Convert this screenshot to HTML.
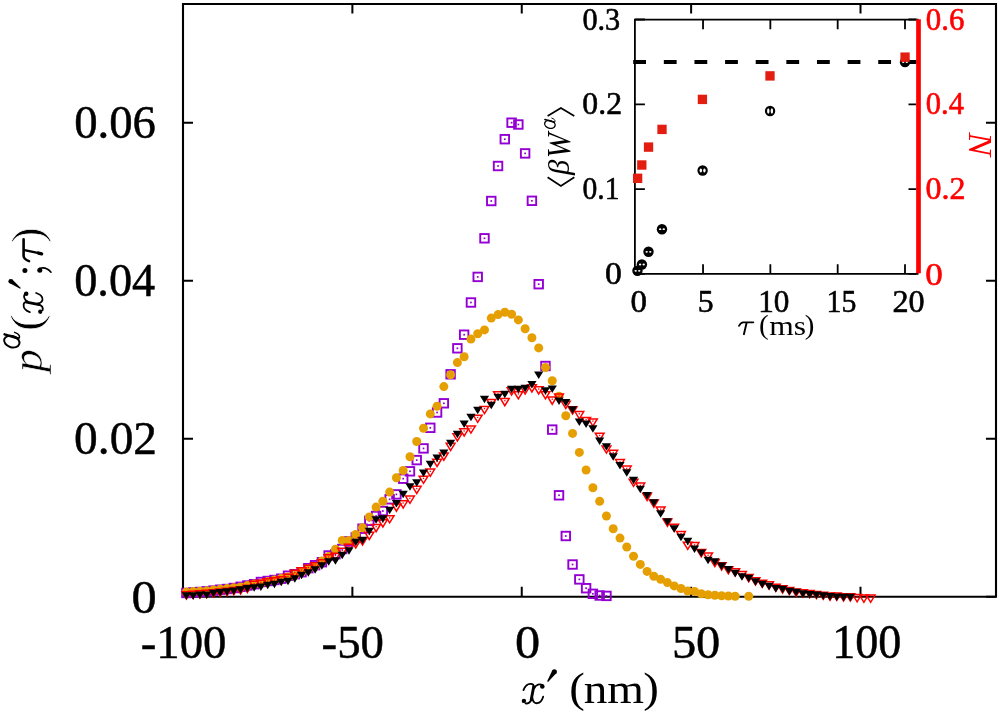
<!DOCTYPE html><html><head><meta charset="utf-8"><style>html,body{margin:0;padding:0;background:#fff;overflow:hidden}svg{display:block;font-family:"Liberation Serif",serif}</style></head><body>
<svg width="1000" height="715" viewBox="0 0 1000 715" font-family="Liberation Serif" style="will-change:transform">
<rect width="1000" height="715" fill="#fff"/>
<path d="M183.0 4.0H996.0V596.8H183.0Z" fill="none" stroke="#000" stroke-width="2.1"/>
<path d="M183.00 596.8v-10M183.00 4.0v9.5M352.38 596.8v-10M352.38 4.0v9.5M521.75 596.8v-10M521.75 4.0v9.5M691.12 596.8v-10M691.12 4.0v9.5M860.50 596.8v-10M860.50 4.0v9.5M183.0 596.80h10M996.0 596.80h-10M183.0 438.80h10M996.0 438.80h-10M183.0 280.80h10M996.0 280.80h-10M183.0 122.80h10M996.0 122.80h-10" stroke="#000" stroke-width="2" fill="none"/>
<g>
<rect x="182.14" y="588.75" width="8.5" height="8.5" fill="none" stroke="#9400d3" stroke-width="1.9"/><rect x="185.54" y="592.15" width="1.7" height="1.7" fill="#9400d3"/><rect x="188.91" y="588.25" width="8.5" height="8.5" fill="none" stroke="#9400d3" stroke-width="1.9"/><rect x="192.31" y="591.65" width="1.7" height="1.7" fill="#9400d3"/><rect x="195.69" y="587.75" width="8.5" height="8.5" fill="none" stroke="#9400d3" stroke-width="1.9"/><rect x="199.09" y="591.15" width="1.7" height="1.7" fill="#9400d3"/><rect x="202.46" y="587.05" width="8.5" height="8.5" fill="none" stroke="#9400d3" stroke-width="1.9"/><rect x="205.86" y="590.45" width="1.7" height="1.7" fill="#9400d3"/><rect x="209.24" y="586.35" width="8.5" height="8.5" fill="none" stroke="#9400d3" stroke-width="1.9"/><rect x="212.64" y="589.75" width="1.7" height="1.7" fill="#9400d3"/><rect x="216.01" y="585.45" width="8.5" height="8.5" fill="none" stroke="#9400d3" stroke-width="1.9"/><rect x="219.41" y="588.85" width="1.7" height="1.7" fill="#9400d3"/><rect x="222.79" y="584.75" width="8.5" height="8.5" fill="none" stroke="#9400d3" stroke-width="1.9"/><rect x="226.19" y="588.15" width="1.7" height="1.7" fill="#9400d3"/><rect x="229.56" y="583.75" width="8.5" height="8.5" fill="none" stroke="#9400d3" stroke-width="1.9"/><rect x="232.96" y="587.15" width="1.7" height="1.7" fill="#9400d3"/><rect x="236.34" y="582.55" width="8.5" height="8.5" fill="none" stroke="#9400d3" stroke-width="1.9"/><rect x="239.74" y="585.95" width="1.7" height="1.7" fill="#9400d3"/><rect x="243.11" y="581.25" width="8.5" height="8.5" fill="none" stroke="#9400d3" stroke-width="1.9"/><rect x="246.51" y="584.65" width="1.7" height="1.7" fill="#9400d3"/><rect x="249.89" y="579.95" width="8.5" height="8.5" fill="none" stroke="#9400d3" stroke-width="1.9"/><rect x="253.29" y="583.35" width="1.7" height="1.7" fill="#9400d3"/><rect x="256.66" y="577.75" width="8.5" height="8.5" fill="none" stroke="#9400d3" stroke-width="1.9"/><rect x="260.06" y="581.15" width="1.7" height="1.7" fill="#9400d3"/><rect x="263.44" y="576.75" width="8.5" height="8.5" fill="none" stroke="#9400d3" stroke-width="1.9"/><rect x="266.84" y="580.15" width="1.7" height="1.7" fill="#9400d3"/><rect x="270.21" y="575.75" width="8.5" height="8.5" fill="none" stroke="#9400d3" stroke-width="1.9"/><rect x="273.61" y="579.15" width="1.7" height="1.7" fill="#9400d3"/><rect x="276.99" y="574.45" width="8.5" height="8.5" fill="none" stroke="#9400d3" stroke-width="1.9"/><rect x="280.39" y="577.85" width="1.7" height="1.7" fill="#9400d3"/><rect x="283.76" y="571.45" width="8.5" height="8.5" fill="none" stroke="#9400d3" stroke-width="1.9"/><rect x="287.16" y="574.85" width="1.7" height="1.7" fill="#9400d3"/><rect x="290.54" y="569.95" width="8.5" height="8.5" fill="none" stroke="#9400d3" stroke-width="1.9"/><rect x="293.94" y="573.35" width="1.7" height="1.7" fill="#9400d3"/><rect x="297.31" y="567.95" width="8.5" height="8.5" fill="none" stroke="#9400d3" stroke-width="1.9"/><rect x="300.71" y="571.35" width="1.7" height="1.7" fill="#9400d3"/><rect x="304.09" y="563.95" width="8.5" height="8.5" fill="none" stroke="#9400d3" stroke-width="1.9"/><rect x="307.49" y="567.35" width="1.7" height="1.7" fill="#9400d3"/><rect x="310.86" y="560.95" width="8.5" height="8.5" fill="none" stroke="#9400d3" stroke-width="1.9"/><rect x="314.26" y="564.35" width="1.7" height="1.7" fill="#9400d3"/><rect x="317.64" y="557.95" width="8.5" height="8.5" fill="none" stroke="#9400d3" stroke-width="1.9"/><rect x="321.04" y="561.35" width="1.7" height="1.7" fill="#9400d3"/><rect x="324.41" y="551.25" width="8.5" height="8.5" fill="none" stroke="#9400d3" stroke-width="1.9"/><rect x="327.81" y="554.65" width="1.7" height="1.7" fill="#9400d3"/><rect x="331.19" y="549.95" width="8.5" height="8.5" fill="none" stroke="#9400d3" stroke-width="1.9"/><rect x="334.59" y="553.35" width="1.7" height="1.7" fill="#9400d3"/><rect x="337.96" y="544.75" width="8.5" height="8.5" fill="none" stroke="#9400d3" stroke-width="1.9"/><rect x="341.36" y="548.15" width="1.7" height="1.7" fill="#9400d3"/><rect x="344.74" y="537.15" width="8.5" height="8.5" fill="none" stroke="#9400d3" stroke-width="1.9"/><rect x="348.14" y="540.55" width="1.7" height="1.7" fill="#9400d3"/><rect x="351.51" y="533.25" width="8.5" height="8.5" fill="none" stroke="#9400d3" stroke-width="1.9"/><rect x="354.91" y="536.65" width="1.7" height="1.7" fill="#9400d3"/><rect x="358.29" y="524.45" width="8.5" height="8.5" fill="none" stroke="#9400d3" stroke-width="1.9"/><rect x="361.69" y="527.85" width="1.7" height="1.7" fill="#9400d3"/><rect x="365.06" y="516.55" width="8.5" height="8.5" fill="none" stroke="#9400d3" stroke-width="1.9"/><rect x="368.46" y="519.95" width="1.7" height="1.7" fill="#9400d3"/><rect x="371.84" y="511.75" width="8.5" height="8.5" fill="none" stroke="#9400d3" stroke-width="1.9"/><rect x="375.24" y="515.15" width="1.7" height="1.7" fill="#9400d3"/><rect x="378.61" y="506.75" width="8.5" height="8.5" fill="none" stroke="#9400d3" stroke-width="1.9"/><rect x="382.01" y="510.15" width="1.7" height="1.7" fill="#9400d3"/><rect x="385.39" y="495.05" width="8.5" height="8.5" fill="none" stroke="#9400d3" stroke-width="1.9"/><rect x="388.79" y="498.45" width="1.7" height="1.7" fill="#9400d3"/><rect x="392.16" y="490.15" width="8.5" height="8.5" fill="none" stroke="#9400d3" stroke-width="1.9"/><rect x="395.56" y="493.55" width="1.7" height="1.7" fill="#9400d3"/><rect x="398.94" y="474.45" width="8.5" height="8.5" fill="none" stroke="#9400d3" stroke-width="1.9"/><rect x="402.34" y="477.85" width="1.7" height="1.7" fill="#9400d3"/><rect x="405.71" y="467.05" width="8.5" height="8.5" fill="none" stroke="#9400d3" stroke-width="1.9"/><rect x="409.11" y="470.45" width="1.7" height="1.7" fill="#9400d3"/><rect x="412.49" y="455.85" width="8.5" height="8.5" fill="none" stroke="#9400d3" stroke-width="1.9"/><rect x="415.89" y="459.25" width="1.7" height="1.7" fill="#9400d3"/><rect x="419.26" y="444.15" width="8.5" height="8.5" fill="none" stroke="#9400d3" stroke-width="1.9"/><rect x="422.66" y="447.55" width="1.7" height="1.7" fill="#9400d3"/><rect x="426.04" y="423.55" width="8.5" height="8.5" fill="none" stroke="#9400d3" stroke-width="1.9"/><rect x="429.44" y="426.95" width="1.7" height="1.7" fill="#9400d3"/><rect x="432.81" y="408.25" width="8.5" height="8.5" fill="none" stroke="#9400d3" stroke-width="1.9"/><rect x="436.21" y="411.65" width="1.7" height="1.7" fill="#9400d3"/><rect x="439.59" y="399.05" width="8.5" height="8.5" fill="none" stroke="#9400d3" stroke-width="1.9"/><rect x="442.99" y="402.45" width="1.7" height="1.7" fill="#9400d3"/><rect x="446.36" y="370.05" width="8.5" height="8.5" fill="none" stroke="#9400d3" stroke-width="1.9"/><rect x="449.76" y="373.45" width="1.7" height="1.7" fill="#9400d3"/><rect x="453.14" y="344.05" width="8.5" height="8.5" fill="none" stroke="#9400d3" stroke-width="1.9"/><rect x="456.54" y="347.45" width="1.7" height="1.7" fill="#9400d3"/><rect x="459.91" y="330.45" width="8.5" height="8.5" fill="none" stroke="#9400d3" stroke-width="1.9"/><rect x="463.31" y="333.85" width="1.7" height="1.7" fill="#9400d3"/><rect x="466.69" y="298.25" width="8.5" height="8.5" fill="none" stroke="#9400d3" stroke-width="1.9"/><rect x="470.09" y="301.65" width="1.7" height="1.7" fill="#9400d3"/><rect x="473.46" y="272.65" width="8.5" height="8.5" fill="none" stroke="#9400d3" stroke-width="1.9"/><rect x="476.86" y="276.05" width="1.7" height="1.7" fill="#9400d3"/><rect x="480.24" y="234.05" width="8.5" height="8.5" fill="none" stroke="#9400d3" stroke-width="1.9"/><rect x="483.64" y="237.45" width="1.7" height="1.7" fill="#9400d3"/><rect x="487.01" y="196.75" width="8.5" height="8.5" fill="none" stroke="#9400d3" stroke-width="1.9"/><rect x="490.41" y="200.15" width="1.7" height="1.7" fill="#9400d3"/><rect x="493.79" y="161.75" width="8.5" height="8.5" fill="none" stroke="#9400d3" stroke-width="1.9"/><rect x="497.19" y="165.15" width="1.7" height="1.7" fill="#9400d3"/><rect x="500.56" y="134.95" width="8.5" height="8.5" fill="none" stroke="#9400d3" stroke-width="1.9"/><rect x="503.96" y="138.35" width="1.7" height="1.7" fill="#9400d3"/><rect x="507.34" y="118.45" width="8.5" height="8.5" fill="none" stroke="#9400d3" stroke-width="1.9"/><rect x="510.74" y="121.85" width="1.7" height="1.7" fill="#9400d3"/><rect x="514.11" y="120.25" width="8.5" height="8.5" fill="none" stroke="#9400d3" stroke-width="1.9"/><rect x="517.51" y="123.65" width="1.7" height="1.7" fill="#9400d3"/><rect x="520.89" y="149.15" width="8.5" height="8.5" fill="none" stroke="#9400d3" stroke-width="1.9"/><rect x="524.29" y="152.55" width="1.7" height="1.7" fill="#9400d3"/><rect x="527.66" y="196.55" width="8.5" height="8.5" fill="none" stroke="#9400d3" stroke-width="1.9"/><rect x="531.06" y="199.95" width="1.7" height="1.7" fill="#9400d3"/><rect x="534.44" y="279.95" width="8.5" height="8.5" fill="none" stroke="#9400d3" stroke-width="1.9"/><rect x="537.84" y="283.35" width="1.7" height="1.7" fill="#9400d3"/><rect x="541.21" y="361.75" width="8.5" height="8.5" fill="none" stroke="#9400d3" stroke-width="1.9"/><rect x="544.61" y="365.15" width="1.7" height="1.7" fill="#9400d3"/><rect x="547.99" y="425.35" width="8.5" height="8.5" fill="none" stroke="#9400d3" stroke-width="1.9"/><rect x="551.39" y="428.75" width="1.7" height="1.7" fill="#9400d3"/><rect x="554.76" y="491.05" width="8.5" height="8.5" fill="none" stroke="#9400d3" stroke-width="1.9"/><rect x="558.16" y="494.45" width="1.7" height="1.7" fill="#9400d3"/><rect x="561.54" y="531.75" width="8.5" height="8.5" fill="none" stroke="#9400d3" stroke-width="1.9"/><rect x="564.94" y="535.15" width="1.7" height="1.7" fill="#9400d3"/><rect x="568.31" y="560.25" width="8.5" height="8.5" fill="none" stroke="#9400d3" stroke-width="1.9"/><rect x="571.71" y="563.65" width="1.7" height="1.7" fill="#9400d3"/><rect x="575.09" y="575.15" width="8.5" height="8.5" fill="none" stroke="#9400d3" stroke-width="1.9"/><rect x="578.49" y="578.55" width="1.7" height="1.7" fill="#9400d3"/><rect x="581.86" y="583.95" width="8.5" height="8.5" fill="none" stroke="#9400d3" stroke-width="1.9"/><rect x="585.26" y="587.35" width="1.7" height="1.7" fill="#9400d3"/><rect x="588.64" y="589.55" width="8.5" height="8.5" fill="none" stroke="#9400d3" stroke-width="1.9"/><rect x="592.04" y="592.95" width="1.7" height="1.7" fill="#9400d3"/><rect x="595.41" y="591.25" width="8.5" height="8.5" fill="none" stroke="#9400d3" stroke-width="1.9"/><rect x="598.81" y="594.65" width="1.7" height="1.7" fill="#9400d3"/><rect x="602.19" y="591.65" width="8.5" height="8.5" fill="none" stroke="#9400d3" stroke-width="1.9"/><rect x="605.59" y="595.05" width="1.7" height="1.7" fill="#9400d3"/>
<circle cx="186.39" cy="592.00" r="4.5" fill="#e69f00"/><circle cx="193.16" cy="591.60" r="4.5" fill="#e69f00"/><circle cx="199.94" cy="591.20" r="4.5" fill="#e69f00"/><circle cx="206.71" cy="590.70" r="4.5" fill="#e69f00"/><circle cx="213.49" cy="590.00" r="4.5" fill="#e69f00"/><circle cx="220.26" cy="589.30" r="4.5" fill="#e69f00"/><circle cx="227.04" cy="588.60" r="4.5" fill="#e69f00"/><circle cx="233.81" cy="587.80" r="4.5" fill="#e69f00"/><circle cx="240.59" cy="587.00" r="4.5" fill="#e69f00"/><circle cx="247.36" cy="585.60" r="4.5" fill="#e69f00"/><circle cx="254.14" cy="584.00" r="4.5" fill="#e69f00"/><circle cx="260.91" cy="583.50" r="4.5" fill="#e69f00"/><circle cx="267.69" cy="581.50" r="4.5" fill="#e69f00"/><circle cx="274.46" cy="580.00" r="4.5" fill="#e69f00"/><circle cx="281.24" cy="578.50" r="4.5" fill="#e69f00"/><circle cx="288.01" cy="577.00" r="4.5" fill="#e69f00"/><circle cx="294.79" cy="575.50" r="4.5" fill="#e69f00"/><circle cx="301.56" cy="572.00" r="4.5" fill="#e69f00"/><circle cx="308.34" cy="569.00" r="4.5" fill="#e69f00"/><circle cx="315.11" cy="566.50" r="4.5" fill="#e69f00"/><circle cx="321.89" cy="561.00" r="4.5" fill="#e69f00"/><circle cx="328.66" cy="556.50" r="4.5" fill="#e69f00"/><circle cx="335.44" cy="549.20" r="4.5" fill="#e69f00"/><circle cx="342.21" cy="540.40" r="4.5" fill="#e69f00"/><circle cx="348.99" cy="540.40" r="4.5" fill="#e69f00"/><circle cx="355.76" cy="534.50" r="4.5" fill="#e69f00"/><circle cx="362.54" cy="527.70" r="4.5" fill="#e69f00"/><circle cx="369.31" cy="516.90" r="4.5" fill="#e69f00"/><circle cx="376.09" cy="507.10" r="4.5" fill="#e69f00"/><circle cx="382.86" cy="501.30" r="4.5" fill="#e69f00"/><circle cx="389.64" cy="492.10" r="4.5" fill="#e69f00"/><circle cx="396.41" cy="477.80" r="4.5" fill="#e69f00"/><circle cx="403.19" cy="470.50" r="4.5" fill="#e69f00"/><circle cx="409.96" cy="456.80" r="4.5" fill="#e69f00"/><circle cx="416.74" cy="441.50" r="4.5" fill="#e69f00"/><circle cx="423.51" cy="428.20" r="4.5" fill="#e69f00"/><circle cx="430.29" cy="413.90" r="4.5" fill="#e69f00"/><circle cx="437.06" cy="406.20" r="4.5" fill="#e69f00"/><circle cx="443.84" cy="386.60" r="4.5" fill="#e69f00"/><circle cx="450.61" cy="374.70" r="4.5" fill="#e69f00"/><circle cx="457.39" cy="362.60" r="4.5" fill="#e69f00"/><circle cx="464.16" cy="356.70" r="4.5" fill="#e69f00"/><circle cx="470.94" cy="339.10" r="4.5" fill="#e69f00"/><circle cx="477.71" cy="333.80" r="4.5" fill="#e69f00"/><circle cx="484.49" cy="329.90" r="4.5" fill="#e69f00"/><circle cx="491.26" cy="318.10" r="4.5" fill="#e69f00"/><circle cx="498.04" cy="314.60" r="4.5" fill="#e69f00"/><circle cx="504.81" cy="312.20" r="4.5" fill="#e69f00"/><circle cx="511.59" cy="314.20" r="4.5" fill="#e69f00"/><circle cx="518.36" cy="319.90" r="4.5" fill="#e69f00"/><circle cx="525.14" cy="328.70" r="4.5" fill="#e69f00"/><circle cx="531.91" cy="337.70" r="4.5" fill="#e69f00"/><circle cx="538.69" cy="347.90" r="4.5" fill="#e69f00"/><circle cx="545.46" cy="367.50" r="4.5" fill="#e69f00"/><circle cx="552.24" cy="380.80" r="4.5" fill="#e69f00"/><circle cx="559.01" cy="396.20" r="4.5" fill="#e69f00"/><circle cx="565.79" cy="415.80" r="4.5" fill="#e69f00"/><circle cx="572.56" cy="433.40" r="4.5" fill="#e69f00"/><circle cx="579.34" cy="452.40" r="4.5" fill="#e69f00"/><circle cx="586.11" cy="470.00" r="4.5" fill="#e69f00"/><circle cx="592.89" cy="487.70" r="4.5" fill="#e69f00"/><circle cx="599.66" cy="501.30" r="4.5" fill="#e69f00"/><circle cx="606.44" cy="516.00" r="4.5" fill="#e69f00"/><circle cx="613.21" cy="528.70" r="4.5" fill="#e69f00"/><circle cx="619.99" cy="538.10" r="4.5" fill="#e69f00"/><circle cx="626.76" cy="547.00" r="4.5" fill="#e69f00"/><circle cx="633.54" cy="556.20" r="4.5" fill="#e69f00"/><circle cx="640.31" cy="564.40" r="4.5" fill="#e69f00"/><circle cx="647.09" cy="571.40" r="4.5" fill="#e69f00"/><circle cx="653.86" cy="576.30" r="4.5" fill="#e69f00"/><circle cx="660.64" cy="579.30" r="4.5" fill="#e69f00"/><circle cx="667.41" cy="582.60" r="4.5" fill="#e69f00"/><circle cx="674.19" cy="585.90" r="4.5" fill="#e69f00"/><circle cx="680.96" cy="588.50" r="4.5" fill="#e69f00"/><circle cx="687.74" cy="591.00" r="4.5" fill="#e69f00"/><circle cx="694.51" cy="591.40" r="4.5" fill="#e69f00"/><circle cx="701.29" cy="593.80" r="4.5" fill="#e69f00"/><circle cx="708.06" cy="594.70" r="4.5" fill="#e69f00"/><circle cx="714.84" cy="595.30" r="4.5" fill="#e69f00"/><circle cx="721.61" cy="595.70" r="4.5" fill="#e69f00"/><circle cx="728.39" cy="596.00" r="4.5" fill="#e69f00"/><circle cx="735.16" cy="596.30" r="4.5" fill="#e69f00"/><circle cx="748.71" cy="596.30" r="4.5" fill="#e69f00"/>
<path d="M181.99 591.80H190.79L186.39 599.00Z" fill="none" stroke="#ff0000" stroke-width="1.5" stroke-linejoin="miter"/><rect x="185.74" y="593.35" width="1.3" height="1.3" fill="#ff0000"/><path d="M188.76 591.30H197.56L193.16 598.50Z" fill="none" stroke="#ff0000" stroke-width="1.5" stroke-linejoin="miter"/><rect x="192.51" y="592.85" width="1.3" height="1.3" fill="#ff0000"/><path d="M195.54 590.80H204.34L199.94 598.00Z" fill="none" stroke="#ff0000" stroke-width="1.5" stroke-linejoin="miter"/><rect x="199.29" y="592.35" width="1.3" height="1.3" fill="#ff0000"/><path d="M202.31 590.30H211.11L206.71 597.50Z" fill="none" stroke="#ff0000" stroke-width="1.5" stroke-linejoin="miter"/><rect x="206.06" y="591.85" width="1.3" height="1.3" fill="#ff0000"/><path d="M209.09 589.80H217.89L213.49 597.00Z" fill="none" stroke="#ff0000" stroke-width="1.5" stroke-linejoin="miter"/><rect x="212.84" y="591.35" width="1.3" height="1.3" fill="#ff0000"/><path d="M215.86 589.10H224.66L220.26 596.30Z" fill="none" stroke="#ff0000" stroke-width="1.5" stroke-linejoin="miter"/><rect x="219.61" y="590.65" width="1.3" height="1.3" fill="#ff0000"/><path d="M222.64 588.30H231.44L227.04 595.50Z" fill="none" stroke="#ff0000" stroke-width="1.5" stroke-linejoin="miter"/><rect x="226.39" y="589.85" width="1.3" height="1.3" fill="#ff0000"/><path d="M229.41 587.60H238.21L233.81 594.80Z" fill="none" stroke="#ff0000" stroke-width="1.5" stroke-linejoin="miter"/><rect x="233.16" y="589.15" width="1.3" height="1.3" fill="#ff0000"/><path d="M236.19 586.80H244.99L240.59 594.00Z" fill="none" stroke="#ff0000" stroke-width="1.5" stroke-linejoin="miter"/><rect x="239.94" y="588.35" width="1.3" height="1.3" fill="#ff0000"/><path d="M242.96 585.30H251.76L247.36 592.50Z" fill="none" stroke="#ff0000" stroke-width="1.5" stroke-linejoin="miter"/><rect x="246.71" y="586.85" width="1.3" height="1.3" fill="#ff0000"/><path d="M249.74 581.30H258.54L254.14 588.50Z" fill="none" stroke="#ff0000" stroke-width="1.5" stroke-linejoin="miter"/><rect x="253.49" y="582.85" width="1.3" height="1.3" fill="#ff0000"/><path d="M256.51 580.30H265.31L260.91 587.50Z" fill="none" stroke="#ff0000" stroke-width="1.5" stroke-linejoin="miter"/><rect x="260.26" y="581.85" width="1.3" height="1.3" fill="#ff0000"/><path d="M263.29 578.80H272.09L267.69 586.00Z" fill="none" stroke="#ff0000" stroke-width="1.5" stroke-linejoin="miter"/><rect x="267.04" y="580.35" width="1.3" height="1.3" fill="#ff0000"/><path d="M270.06 577.80H278.86L274.46 585.00Z" fill="none" stroke="#ff0000" stroke-width="1.5" stroke-linejoin="miter"/><rect x="273.81" y="579.35" width="1.3" height="1.3" fill="#ff0000"/><path d="M276.84 576.80H285.64L281.24 584.00Z" fill="none" stroke="#ff0000" stroke-width="1.5" stroke-linejoin="miter"/><rect x="280.59" y="578.35" width="1.3" height="1.3" fill="#ff0000"/><path d="M283.61 574.30H292.41L288.01 581.50Z" fill="none" stroke="#ff0000" stroke-width="1.5" stroke-linejoin="miter"/><rect x="287.36" y="575.85" width="1.3" height="1.3" fill="#ff0000"/><path d="M290.39 570.30H299.19L294.79 577.50Z" fill="none" stroke="#ff0000" stroke-width="1.5" stroke-linejoin="miter"/><rect x="294.14" y="571.85" width="1.3" height="1.3" fill="#ff0000"/><path d="M297.16 567.80H305.96L301.56 575.00Z" fill="none" stroke="#ff0000" stroke-width="1.5" stroke-linejoin="miter"/><rect x="300.91" y="569.35" width="1.3" height="1.3" fill="#ff0000"/><path d="M303.94 565.30H312.74L308.34 572.50Z" fill="none" stroke="#ff0000" stroke-width="1.5" stroke-linejoin="miter"/><rect x="307.69" y="566.85" width="1.3" height="1.3" fill="#ff0000"/><path d="M310.71 562.80H319.51L315.11 570.00Z" fill="none" stroke="#ff0000" stroke-width="1.5" stroke-linejoin="miter"/><rect x="314.46" y="564.35" width="1.3" height="1.3" fill="#ff0000"/><path d="M317.49 559.80H326.29L321.89 567.00Z" fill="none" stroke="#ff0000" stroke-width="1.5" stroke-linejoin="miter"/><rect x="321.24" y="561.35" width="1.3" height="1.3" fill="#ff0000"/><path d="M324.26 554.80H333.06L328.66 562.00Z" fill="none" stroke="#ff0000" stroke-width="1.5" stroke-linejoin="miter"/><rect x="328.01" y="556.35" width="1.3" height="1.3" fill="#ff0000"/><path d="M331.04 553.30H339.84L335.44 560.50Z" fill="none" stroke="#ff0000" stroke-width="1.5" stroke-linejoin="miter"/><rect x="334.79" y="554.85" width="1.3" height="1.3" fill="#ff0000"/><path d="M337.81 548.30H346.61L342.21 555.50Z" fill="none" stroke="#ff0000" stroke-width="1.5" stroke-linejoin="miter"/><rect x="341.56" y="549.85" width="1.3" height="1.3" fill="#ff0000"/><path d="M344.59 544.30H353.39L348.99 551.50Z" fill="none" stroke="#ff0000" stroke-width="1.5" stroke-linejoin="miter"/><rect x="348.34" y="545.85" width="1.3" height="1.3" fill="#ff0000"/><path d="M351.36 540.80H360.16L355.76 548.00Z" fill="none" stroke="#ff0000" stroke-width="1.5" stroke-linejoin="miter"/><rect x="355.11" y="542.35" width="1.3" height="1.3" fill="#ff0000"/><path d="M358.14 537.80H366.94L362.54 545.00Z" fill="none" stroke="#ff0000" stroke-width="1.5" stroke-linejoin="miter"/><rect x="361.89" y="539.35" width="1.3" height="1.3" fill="#ff0000"/><path d="M364.91 532.30H373.71L369.31 539.50Z" fill="none" stroke="#ff0000" stroke-width="1.5" stroke-linejoin="miter"/><rect x="368.66" y="533.85" width="1.3" height="1.3" fill="#ff0000"/><path d="M371.69 524.50H380.49L376.09 531.70Z" fill="none" stroke="#ff0000" stroke-width="1.5" stroke-linejoin="miter"/><rect x="375.44" y="526.05" width="1.3" height="1.3" fill="#ff0000"/><path d="M378.46 519.80H387.26L382.86 527.00Z" fill="none" stroke="#ff0000" stroke-width="1.5" stroke-linejoin="miter"/><rect x="382.21" y="521.35" width="1.3" height="1.3" fill="#ff0000"/><path d="M385.24 515.70H394.04L389.64 522.90Z" fill="none" stroke="#ff0000" stroke-width="1.5" stroke-linejoin="miter"/><rect x="388.99" y="517.25" width="1.3" height="1.3" fill="#ff0000"/><path d="M392.01 504.00H400.81L396.41 511.20Z" fill="none" stroke="#ff0000" stroke-width="1.5" stroke-linejoin="miter"/><rect x="395.76" y="505.55" width="1.3" height="1.3" fill="#ff0000"/><path d="M398.79 500.80H407.59L403.19 508.00Z" fill="none" stroke="#ff0000" stroke-width="1.5" stroke-linejoin="miter"/><rect x="402.54" y="502.35" width="1.3" height="1.3" fill="#ff0000"/><path d="M405.56 496.10H414.36L409.96 503.30Z" fill="none" stroke="#ff0000" stroke-width="1.5" stroke-linejoin="miter"/><rect x="409.31" y="497.65" width="1.3" height="1.3" fill="#ff0000"/><path d="M412.34 486.30H421.14L416.74 493.50Z" fill="none" stroke="#ff0000" stroke-width="1.5" stroke-linejoin="miter"/><rect x="416.09" y="487.85" width="1.3" height="1.3" fill="#ff0000"/><path d="M419.11 476.20H427.91L423.51 483.40Z" fill="none" stroke="#ff0000" stroke-width="1.5" stroke-linejoin="miter"/><rect x="422.86" y="477.75" width="1.3" height="1.3" fill="#ff0000"/><path d="M425.89 469.10H434.69L430.29 476.30Z" fill="none" stroke="#ff0000" stroke-width="1.5" stroke-linejoin="miter"/><rect x="429.64" y="470.65" width="1.3" height="1.3" fill="#ff0000"/><path d="M432.66 459.30H441.46L437.06 466.50Z" fill="none" stroke="#ff0000" stroke-width="1.5" stroke-linejoin="miter"/><rect x="436.41" y="460.85" width="1.3" height="1.3" fill="#ff0000"/><path d="M439.44 453.00H448.24L443.84 460.20Z" fill="none" stroke="#ff0000" stroke-width="1.5" stroke-linejoin="miter"/><rect x="443.19" y="454.55" width="1.3" height="1.3" fill="#ff0000"/><path d="M446.21 443.30H455.01L450.61 450.50Z" fill="none" stroke="#ff0000" stroke-width="1.5" stroke-linejoin="miter"/><rect x="449.96" y="444.85" width="1.3" height="1.3" fill="#ff0000"/><path d="M452.99 433.80H461.79L457.39 441.00Z" fill="none" stroke="#ff0000" stroke-width="1.5" stroke-linejoin="miter"/><rect x="456.74" y="435.35" width="1.3" height="1.3" fill="#ff0000"/><path d="M459.76 428.80H468.56L464.16 436.00Z" fill="none" stroke="#ff0000" stroke-width="1.5" stroke-linejoin="miter"/><rect x="463.51" y="430.35" width="1.3" height="1.3" fill="#ff0000"/><path d="M466.54 425.90H475.34L470.94 433.10Z" fill="none" stroke="#ff0000" stroke-width="1.5" stroke-linejoin="miter"/><rect x="470.29" y="427.45" width="1.3" height="1.3" fill="#ff0000"/><path d="M473.31 415.20H482.11L477.71 422.40Z" fill="none" stroke="#ff0000" stroke-width="1.5" stroke-linejoin="miter"/><rect x="477.06" y="416.75" width="1.3" height="1.3" fill="#ff0000"/><path d="M480.09 406.40H488.89L484.49 413.60Z" fill="none" stroke="#ff0000" stroke-width="1.5" stroke-linejoin="miter"/><rect x="483.84" y="407.95" width="1.3" height="1.3" fill="#ff0000"/><path d="M486.86 399.50H495.66L491.26 406.70Z" fill="none" stroke="#ff0000" stroke-width="1.5" stroke-linejoin="miter"/><rect x="490.61" y="401.05" width="1.3" height="1.3" fill="#ff0000"/><path d="M493.64 391.70H502.44L498.04 398.90Z" fill="none" stroke="#ff0000" stroke-width="1.5" stroke-linejoin="miter"/><rect x="497.39" y="393.25" width="1.3" height="1.3" fill="#ff0000"/><path d="M500.41 398.50H509.21L504.81 405.70Z" fill="none" stroke="#ff0000" stroke-width="1.5" stroke-linejoin="miter"/><rect x="504.16" y="400.05" width="1.3" height="1.3" fill="#ff0000"/><path d="M507.19 387.80H515.99L511.59 395.00Z" fill="none" stroke="#ff0000" stroke-width="1.5" stroke-linejoin="miter"/><rect x="510.94" y="389.35" width="1.3" height="1.3" fill="#ff0000"/><path d="M513.96 391.70H522.76L518.36 398.90Z" fill="none" stroke="#ff0000" stroke-width="1.5" stroke-linejoin="miter"/><rect x="517.71" y="393.25" width="1.3" height="1.3" fill="#ff0000"/><path d="M520.74 386.80H529.54L525.14 394.00Z" fill="none" stroke="#ff0000" stroke-width="1.5" stroke-linejoin="miter"/><rect x="524.49" y="388.35" width="1.3" height="1.3" fill="#ff0000"/><path d="M527.51 384.80H536.31L531.91 392.00Z" fill="none" stroke="#ff0000" stroke-width="1.5" stroke-linejoin="miter"/><rect x="531.26" y="386.35" width="1.3" height="1.3" fill="#ff0000"/><path d="M534.29 386.80H543.09L538.69 394.00Z" fill="none" stroke="#ff0000" stroke-width="1.5" stroke-linejoin="miter"/><rect x="538.04" y="388.35" width="1.3" height="1.3" fill="#ff0000"/><path d="M541.06 391.70H549.86L545.46 398.90Z" fill="none" stroke="#ff0000" stroke-width="1.5" stroke-linejoin="miter"/><rect x="544.81" y="393.25" width="1.3" height="1.3" fill="#ff0000"/><path d="M547.84 397.00H556.64L552.24 404.20Z" fill="none" stroke="#ff0000" stroke-width="1.5" stroke-linejoin="miter"/><rect x="551.59" y="398.55" width="1.3" height="1.3" fill="#ff0000"/><path d="M554.61 394.00H563.41L559.01 401.20Z" fill="none" stroke="#ff0000" stroke-width="1.5" stroke-linejoin="miter"/><rect x="558.36" y="395.55" width="1.3" height="1.3" fill="#ff0000"/><path d="M561.39 401.30H570.19L565.79 408.50Z" fill="none" stroke="#ff0000" stroke-width="1.5" stroke-linejoin="miter"/><rect x="565.14" y="402.85" width="1.3" height="1.3" fill="#ff0000"/><path d="M568.16 406.80H576.96L572.56 414.00Z" fill="none" stroke="#ff0000" stroke-width="1.5" stroke-linejoin="miter"/><rect x="571.91" y="408.35" width="1.3" height="1.3" fill="#ff0000"/><path d="M574.94 411.60H583.74L579.34 418.80Z" fill="none" stroke="#ff0000" stroke-width="1.5" stroke-linejoin="miter"/><rect x="578.69" y="413.15" width="1.3" height="1.3" fill="#ff0000"/><path d="M581.71 417.50H590.51L586.11 424.70Z" fill="none" stroke="#ff0000" stroke-width="1.5" stroke-linejoin="miter"/><rect x="585.46" y="419.05" width="1.3" height="1.3" fill="#ff0000"/><path d="M588.49 418.90H597.29L592.89 426.10Z" fill="none" stroke="#ff0000" stroke-width="1.5" stroke-linejoin="miter"/><rect x="592.24" y="420.45" width="1.3" height="1.3" fill="#ff0000"/><path d="M595.26 433.20H604.06L599.66 440.40Z" fill="none" stroke="#ff0000" stroke-width="1.5" stroke-linejoin="miter"/><rect x="599.01" y="434.75" width="1.3" height="1.3" fill="#ff0000"/><path d="M602.04 445.90H610.84L606.44 453.10Z" fill="none" stroke="#ff0000" stroke-width="1.5" stroke-linejoin="miter"/><rect x="605.79" y="447.45" width="1.3" height="1.3" fill="#ff0000"/><path d="M608.81 450.20H617.61L613.21 457.40Z" fill="none" stroke="#ff0000" stroke-width="1.5" stroke-linejoin="miter"/><rect x="612.56" y="451.75" width="1.3" height="1.3" fill="#ff0000"/><path d="M615.59 459.60H624.39L619.99 466.80Z" fill="none" stroke="#ff0000" stroke-width="1.5" stroke-linejoin="miter"/><rect x="619.34" y="461.15" width="1.3" height="1.3" fill="#ff0000"/><path d="M622.36 466.10H631.16L626.76 473.30Z" fill="none" stroke="#ff0000" stroke-width="1.5" stroke-linejoin="miter"/><rect x="626.11" y="467.65" width="1.3" height="1.3" fill="#ff0000"/><path d="M629.14 479.20H637.94L633.54 486.40Z" fill="none" stroke="#ff0000" stroke-width="1.5" stroke-linejoin="miter"/><rect x="632.89" y="480.75" width="1.3" height="1.3" fill="#ff0000"/><path d="M635.91 483.10H644.71L640.31 490.30Z" fill="none" stroke="#ff0000" stroke-width="1.5" stroke-linejoin="miter"/><rect x="639.66" y="484.65" width="1.3" height="1.3" fill="#ff0000"/><path d="M642.69 493.30H651.49L647.09 500.50Z" fill="none" stroke="#ff0000" stroke-width="1.5" stroke-linejoin="miter"/><rect x="646.44" y="494.85" width="1.3" height="1.3" fill="#ff0000"/><path d="M649.46 500.10H658.26L653.86 507.30Z" fill="none" stroke="#ff0000" stroke-width="1.5" stroke-linejoin="miter"/><rect x="653.21" y="501.65" width="1.3" height="1.3" fill="#ff0000"/><path d="M656.24 507.00H665.04L660.64 514.20Z" fill="none" stroke="#ff0000" stroke-width="1.5" stroke-linejoin="miter"/><rect x="659.99" y="508.55" width="1.3" height="1.3" fill="#ff0000"/><path d="M663.01 519.10H671.81L667.41 526.30Z" fill="none" stroke="#ff0000" stroke-width="1.5" stroke-linejoin="miter"/><rect x="666.76" y="520.65" width="1.3" height="1.3" fill="#ff0000"/><path d="M669.79 524.20H678.59L674.19 531.40Z" fill="none" stroke="#ff0000" stroke-width="1.5" stroke-linejoin="miter"/><rect x="673.54" y="525.75" width="1.3" height="1.3" fill="#ff0000"/><path d="M676.56 531.40H685.36L680.96 538.60Z" fill="none" stroke="#ff0000" stroke-width="1.5" stroke-linejoin="miter"/><rect x="680.31" y="532.95" width="1.3" height="1.3" fill="#ff0000"/><path d="M683.34 542.20H692.14L687.74 549.40Z" fill="none" stroke="#ff0000" stroke-width="1.5" stroke-linejoin="miter"/><rect x="687.09" y="543.75" width="1.3" height="1.3" fill="#ff0000"/><path d="M690.11 542.60H698.91L694.51 549.80Z" fill="none" stroke="#ff0000" stroke-width="1.5" stroke-linejoin="miter"/><rect x="693.86" y="544.15" width="1.3" height="1.3" fill="#ff0000"/><path d="M696.89 549.60H705.69L701.29 556.80Z" fill="none" stroke="#ff0000" stroke-width="1.5" stroke-linejoin="miter"/><rect x="700.64" y="551.15" width="1.3" height="1.3" fill="#ff0000"/><path d="M703.66 553.00H712.46L708.06 560.20Z" fill="none" stroke="#ff0000" stroke-width="1.5" stroke-linejoin="miter"/><rect x="707.41" y="554.55" width="1.3" height="1.3" fill="#ff0000"/><path d="M710.44 559.40H719.24L714.84 566.60Z" fill="none" stroke="#ff0000" stroke-width="1.5" stroke-linejoin="miter"/><rect x="714.19" y="560.95" width="1.3" height="1.3" fill="#ff0000"/><path d="M717.21 562.80H726.01L721.61 570.00Z" fill="none" stroke="#ff0000" stroke-width="1.5" stroke-linejoin="miter"/><rect x="720.96" y="564.35" width="1.3" height="1.3" fill="#ff0000"/><path d="M723.99 566.70H732.79L728.39 573.90Z" fill="none" stroke="#ff0000" stroke-width="1.5" stroke-linejoin="miter"/><rect x="727.74" y="568.25" width="1.3" height="1.3" fill="#ff0000"/><path d="M730.76 568.80H739.56L735.16 576.00Z" fill="none" stroke="#ff0000" stroke-width="1.5" stroke-linejoin="miter"/><rect x="734.51" y="570.35" width="1.3" height="1.3" fill="#ff0000"/><path d="M737.54 571.40H746.34L741.94 578.60Z" fill="none" stroke="#ff0000" stroke-width="1.5" stroke-linejoin="miter"/><rect x="741.29" y="572.95" width="1.3" height="1.3" fill="#ff0000"/><path d="M744.31 574.60H753.11L748.71 581.80Z" fill="none" stroke="#ff0000" stroke-width="1.5" stroke-linejoin="miter"/><rect x="748.06" y="576.15" width="1.3" height="1.3" fill="#ff0000"/><path d="M751.09 577.80H759.89L755.49 585.00Z" fill="none" stroke="#ff0000" stroke-width="1.5" stroke-linejoin="miter"/><rect x="754.84" y="579.35" width="1.3" height="1.3" fill="#ff0000"/><path d="M757.86 580.20H766.66L762.26 587.40Z" fill="none" stroke="#ff0000" stroke-width="1.5" stroke-linejoin="miter"/><rect x="761.61" y="581.75" width="1.3" height="1.3" fill="#ff0000"/><path d="M764.64 581.80H773.44L769.04 589.00Z" fill="none" stroke="#ff0000" stroke-width="1.5" stroke-linejoin="miter"/><rect x="768.39" y="583.35" width="1.3" height="1.3" fill="#ff0000"/><path d="M771.41 584.20H780.21L775.81 591.40Z" fill="none" stroke="#ff0000" stroke-width="1.5" stroke-linejoin="miter"/><rect x="775.16" y="585.75" width="1.3" height="1.3" fill="#ff0000"/><path d="M778.19 585.80H786.99L782.59 593.00Z" fill="none" stroke="#ff0000" stroke-width="1.5" stroke-linejoin="miter"/><rect x="781.94" y="587.35" width="1.3" height="1.3" fill="#ff0000"/><path d="M784.96 587.40H793.76L789.36 594.60Z" fill="none" stroke="#ff0000" stroke-width="1.5" stroke-linejoin="miter"/><rect x="788.71" y="588.95" width="1.3" height="1.3" fill="#ff0000"/><path d="M791.74 589.00H800.54L796.14 596.20Z" fill="none" stroke="#ff0000" stroke-width="1.5" stroke-linejoin="miter"/><rect x="795.49" y="590.55" width="1.3" height="1.3" fill="#ff0000"/><path d="M798.51 589.80H807.31L802.91 597.00Z" fill="none" stroke="#ff0000" stroke-width="1.5" stroke-linejoin="miter"/><rect x="802.26" y="591.35" width="1.3" height="1.3" fill="#ff0000"/><path d="M805.29 590.60H814.09L809.69 597.80Z" fill="none" stroke="#ff0000" stroke-width="1.5" stroke-linejoin="miter"/><rect x="809.04" y="592.15" width="1.3" height="1.3" fill="#ff0000"/><path d="M812.06 591.40H820.86L816.46 598.60Z" fill="none" stroke="#ff0000" stroke-width="1.5" stroke-linejoin="miter"/><rect x="815.81" y="592.95" width="1.3" height="1.3" fill="#ff0000"/><path d="M818.84 592.20H827.64L823.24 599.40Z" fill="none" stroke="#ff0000" stroke-width="1.5" stroke-linejoin="miter"/><rect x="822.59" y="593.75" width="1.3" height="1.3" fill="#ff0000"/><path d="M825.61 593.00H834.41L830.01 600.20Z" fill="none" stroke="#ff0000" stroke-width="1.5" stroke-linejoin="miter"/><rect x="829.36" y="594.55" width="1.3" height="1.3" fill="#ff0000"/><path d="M832.39 593.00H841.19L836.79 600.20Z" fill="none" stroke="#ff0000" stroke-width="1.5" stroke-linejoin="miter"/><rect x="836.14" y="594.55" width="1.3" height="1.3" fill="#ff0000"/><path d="M839.16 593.80H847.96L843.56 601.00Z" fill="none" stroke="#ff0000" stroke-width="1.5" stroke-linejoin="miter"/><rect x="842.91" y="595.35" width="1.3" height="1.3" fill="#ff0000"/><path d="M845.94 593.80H854.74L850.34 601.00Z" fill="none" stroke="#ff0000" stroke-width="1.5" stroke-linejoin="miter"/><rect x="849.69" y="595.35" width="1.3" height="1.3" fill="#ff0000"/><path d="M852.71 594.60H861.51L857.11 601.80Z" fill="none" stroke="#ff0000" stroke-width="1.5" stroke-linejoin="miter"/><rect x="856.46" y="596.15" width="1.3" height="1.3" fill="#ff0000"/><path d="M859.49 595.10H868.29L863.89 602.30Z" fill="none" stroke="#ff0000" stroke-width="1.5" stroke-linejoin="miter"/><rect x="863.24" y="596.65" width="1.3" height="1.3" fill="#ff0000"/><path d="M866.26 595.10H875.06L870.66 602.30Z" fill="none" stroke="#ff0000" stroke-width="1.5" stroke-linejoin="miter"/><rect x="870.01" y="596.65" width="1.3" height="1.3" fill="#ff0000"/>
<path d="M181.79 592.25H190.99L186.39 599.75Z" fill="#000"/><path d="M188.56 592.25H197.76L193.16 599.75Z" fill="#000"/><path d="M195.34 591.45H204.54L199.94 598.95Z" fill="#000"/><path d="M202.11 591.45H211.31L206.71 598.95Z" fill="#000"/><path d="M208.89 589.85H218.09L213.49 597.35Z" fill="#000"/><path d="M215.66 589.05H224.86L220.26 596.55Z" fill="#000"/><path d="M222.44 588.25H231.64L227.04 595.75Z" fill="#000"/><path d="M229.21 587.45H238.41L233.81 594.95Z" fill="#000"/><path d="M235.99 586.15H245.19L240.59 593.65Z" fill="#000"/><path d="M242.76 585.05H251.96L247.36 592.55Z" fill="#000"/><path d="M249.54 584.25H258.74L254.14 591.75Z" fill="#000"/><path d="M256.31 583.55H265.51L260.91 591.05Z" fill="#000"/><path d="M263.09 581.75H272.29L267.69 589.25Z" fill="#000"/><path d="M269.86 580.75H279.06L274.46 588.25Z" fill="#000"/><path d="M276.64 578.75H285.84L281.24 586.25Z" fill="#000"/><path d="M283.41 577.75H292.61L288.01 585.25Z" fill="#000"/><path d="M290.19 575.25H299.39L294.79 582.75Z" fill="#000"/><path d="M296.96 571.75H306.16L301.56 579.25Z" fill="#000"/><path d="M303.74 569.25H312.94L308.34 576.75Z" fill="#000"/><path d="M310.51 566.25H319.71L315.11 573.75Z" fill="#000"/><path d="M317.29 562.25H326.49L321.89 569.75Z" fill="#000"/><path d="M324.06 558.25H333.26L328.66 565.75Z" fill="#000"/><path d="M330.84 557.25H340.04L335.44 564.75Z" fill="#000"/><path d="M337.61 551.75H346.81L342.21 559.25Z" fill="#000"/><path d="M344.39 547.25H353.59L348.99 554.75Z" fill="#000"/><path d="M351.16 538.65H360.36L355.76 546.15Z" fill="#000"/><path d="M357.94 536.65H367.14L362.54 544.15Z" fill="#000"/><path d="M364.71 527.85H373.91L369.31 535.35Z" fill="#000"/><path d="M371.49 516.15H380.69L376.09 523.65Z" fill="#000"/><path d="M378.26 515.15H387.46L382.86 522.65Z" fill="#000"/><path d="M385.04 506.75H394.24L389.64 514.25Z" fill="#000"/><path d="M391.81 500.05H401.01L396.41 507.55Z" fill="#000"/><path d="M398.59 490.65H407.79L403.19 498.15Z" fill="#000"/><path d="M405.36 483.25H414.56L409.96 490.75Z" fill="#000"/><path d="M412.14 479.25H421.34L416.74 486.75Z" fill="#000"/><path d="M418.91 469.55H428.11L423.51 477.05Z" fill="#000"/><path d="M425.69 460.85H434.89L430.29 468.35Z" fill="#000"/><path d="M432.46 454.45H441.66L437.06 461.95Z" fill="#000"/><path d="M439.24 449.55H448.44L443.84 457.05Z" fill="#000"/><path d="M446.01 439.75H455.21L450.61 447.25Z" fill="#000"/><path d="M452.79 430.75H461.99L457.39 438.25Z" fill="#000"/><path d="M459.56 420.45H468.76L464.16 427.95Z" fill="#000"/><path d="M466.34 413.65H475.54L470.94 421.15Z" fill="#000"/><path d="M473.11 406.75H482.31L477.71 414.25Z" fill="#000"/><path d="M479.89 395.65H489.09L484.49 403.15Z" fill="#000"/><path d="M486.66 401.85H495.86L491.26 409.35Z" fill="#000"/><path d="M493.44 393.65H502.64L498.04 401.15Z" fill="#000"/><path d="M500.21 390.75H509.41L504.81 398.25Z" fill="#000"/><path d="M506.99 385.65H516.19L511.59 393.15Z" fill="#000"/><path d="M513.76 385.65H522.96L518.36 393.15Z" fill="#000"/><path d="M520.54 384.85H529.74L525.14 392.35Z" fill="#000"/><path d="M527.31 380.95H536.51L531.91 388.45Z" fill="#000"/><path d="M534.09 371.55H543.29L538.69 379.05Z" fill="#000"/><path d="M540.86 387.25H550.06L545.46 394.75Z" fill="#000"/><path d="M547.64 385.55H556.84L552.24 393.05Z" fill="#000"/><path d="M554.41 397.55H563.61L559.01 405.05Z" fill="#000"/><path d="M561.19 398.95H570.39L565.79 406.45Z" fill="#000"/><path d="M567.96 406.25H577.16L572.56 413.75Z" fill="#000"/><path d="M574.74 418.55H583.94L579.34 426.05Z" fill="#000"/><path d="M581.51 420.45H590.71L586.11 427.95Z" fill="#000"/><path d="M588.29 425.15H597.49L592.89 432.65Z" fill="#000"/><path d="M595.06 437.55H604.26L599.66 445.05Z" fill="#000"/><path d="M601.84 443.35H611.04L606.44 450.85Z" fill="#000"/><path d="M608.61 453.15H617.81L613.21 460.65Z" fill="#000"/><path d="M615.39 461.95H624.59L619.99 469.45Z" fill="#000"/><path d="M622.16 469.35H631.36L626.76 476.85Z" fill="#000"/><path d="M628.94 476.85H638.14L633.54 484.35Z" fill="#000"/><path d="M635.71 485.85H644.91L640.31 493.35Z" fill="#000"/><path d="M642.49 492.05H651.69L647.09 499.55Z" fill="#000"/><path d="M649.26 499.15H658.46L653.86 506.65Z" fill="#000"/><path d="M656.04 510.35H665.24L660.64 517.85Z" fill="#000"/><path d="M662.81 518.15H672.01L667.41 525.65Z" fill="#000"/><path d="M669.59 525.35H678.79L674.19 532.85Z" fill="#000"/><path d="M676.36 533.85H685.56L680.96 541.35Z" fill="#000"/><path d="M683.14 537.75H692.34L687.74 545.25Z" fill="#000"/><path d="M689.91 545.55H699.11L694.51 553.05Z" fill="#000"/><path d="M696.69 549.45H705.89L701.29 556.95Z" fill="#000"/><path d="M703.46 556.75H712.66L708.06 564.25Z" fill="#000"/><path d="M710.24 558.25H719.44L714.84 565.75Z" fill="#000"/><path d="M717.01 562.45H726.21L721.61 569.95Z" fill="#000"/><path d="M723.79 565.95H732.99L728.39 573.45Z" fill="#000"/><path d="M730.56 569.85H739.76L735.16 577.35Z" fill="#000"/><path d="M737.34 573.35H746.54L741.94 580.85Z" fill="#000"/><path d="M744.11 574.65H753.31L748.71 582.15Z" fill="#000"/><path d="M750.89 578.15H760.09L755.49 585.65Z" fill="#000"/><path d="M757.66 580.75H766.86L762.26 588.25Z" fill="#000"/><path d="M764.44 582.65H773.64L769.04 590.15Z" fill="#000"/><path d="M771.21 585.05H780.41L775.81 592.55Z" fill="#000"/><path d="M777.99 585.85H787.19L782.59 593.35Z" fill="#000"/><path d="M784.76 587.75H793.96L789.36 595.25Z" fill="#000"/><path d="M791.54 588.75H800.74L796.14 596.25Z" fill="#000"/><path d="M798.31 590.35H807.51L802.91 597.85Z" fill="#000"/><path d="M805.09 590.95H814.29L809.69 598.45Z" fill="#000"/><path d="M811.86 591.45H821.06L816.46 598.95Z" fill="#000"/><path d="M818.64 592.25H827.84L823.24 599.75Z" fill="#000"/><path d="M825.41 593.05H834.61L830.01 600.55Z" fill="#000"/><path d="M832.19 593.55H841.39L836.79 601.05Z" fill="#000"/><path d="M838.96 593.85H848.16L843.56 601.35Z" fill="#000"/><path d="M845.74 593.85H854.94L850.34 601.35Z" fill="#000"/>
</g>
<path d="M918.5 19.7H634.9V273.8H918.5" fill="none" stroke="#000" stroke-width="1.8"/>
<path d="M703.03 273.8v-9.5M703.03 19.7v9.5M770.35 273.8v-9.5M770.35 19.7v9.5M837.68 273.8v-9.5M837.68 19.7v9.5M905.00 273.8v-9.5M905.00 19.7v9.5M634.9 273.90h10M916.5 273.90h-8M634.9 189.10h10M916.5 189.10h-8M634.9 104.30h10M916.5 104.30h-8M634.9 19.50h10M916.5 19.50h-8" stroke="#000" stroke-width="1.8" fill="none"/>
<path d="M633.2 62H916.5" stroke="#000" stroke-width="4" stroke-dasharray="12.8 17.83" fill="none"/>
<circle cx="637.45" cy="270.8" r="5.2" fill="#000"/><ellipse cx="635.65" cy="270.8" rx="1.2" ry="0.9" fill="#fff"/><ellipse cx="639.25" cy="270.8" rx="1.2" ry="0.9" fill="#fff"/>
<circle cx="641.89" cy="264.5" r="5.2" fill="#000"/><ellipse cx="640.09" cy="264.5" rx="1.2" ry="0.9" fill="#fff"/><ellipse cx="643.69" cy="264.5" rx="1.2" ry="0.9" fill="#fff"/>
<circle cx="648.49" cy="251.8" r="5.2" fill="#000"/><ellipse cx="646.69" cy="251.8" rx="1.2" ry="0.9" fill="#fff"/><ellipse cx="650.29" cy="251.8" rx="1.2" ry="0.9" fill="#fff"/>
<circle cx="661.96" cy="229.2" r="5.2" fill="#000"/><ellipse cx="660.16" cy="229.2" rx="1.2" ry="0.9" fill="#fff"/><ellipse cx="663.76" cy="229.2" rx="1.2" ry="0.9" fill="#fff"/>
<circle cx="702.62" cy="170.5" r="5.2" fill="#000"/><ellipse cx="700.82" cy="170.5" rx="1.2" ry="1.9" fill="#fff"/><ellipse cx="704.42" cy="170.5" rx="1.2" ry="1.9" fill="#fff"/>
<circle cx="770.08" cy="111" r="5.2" fill="#000"/><ellipse cx="768.28" cy="111" rx="1.2" ry="2.7" fill="#fff"/><ellipse cx="771.88" cy="111" rx="1.2" ry="2.7" fill="#fff"/>
<circle cx="905.00" cy="62.1" r="5.2" fill="#000"/><ellipse cx="903.20" cy="62.1" rx="1.2" ry="0.9" fill="#fff"/><ellipse cx="906.80" cy="62.1" rx="1.2" ry="0.9" fill="#fff"/>
<rect x="632.99" y="173.60" width="9.3" height="9.4" fill="#e31e10"/>
<rect x="637.16" y="160.30" width="9.3" height="9.4" fill="#e31e10"/>
<rect x="643.89" y="142.40" width="9.3" height="9.4" fill="#e31e10"/>
<rect x="657.36" y="124.70" width="9.3" height="9.4" fill="#e31e10"/>
<rect x="697.75" y="94.70" width="9.3" height="9.4" fill="#e31e10"/>
<rect x="765.35" y="71.20" width="9.3" height="9.4" fill="#e31e10"/>
<rect x="900.40" y="52.45" width="9.3" height="9.4" fill="#e31e10"/>
<path d="M918.5 19.3V273.3" stroke="#ff0000" stroke-width="4.7"/>
<text transform="matrix(0.9746 0 0 0.9863 74.144 138.210)" font-size="48" fill="#000" stroke="#000" stroke-width="0.5" stroke-linejoin="round">0.06</text>
<text transform="matrix(0.9656 0 0 0.9557 74.160 295.633)" font-size="48" fill="#000" stroke="#000" stroke-width="0.5" stroke-linejoin="round">0.04</text>
<text transform="matrix(0.9868 0 0 0.9618 74.123 454.229)" font-size="48" fill="#000" stroke="#000" stroke-width="0.5" stroke-linejoin="round">0.02</text>
<text transform="matrix(1.0488 0 0 0.9846 131.415 612.758)" font-size="48" fill="#000" stroke="#000" stroke-width="0.5" stroke-linejoin="round">0</text>
<text transform="matrix(0.9740 0 0 0.9815 140.746 657.959)" font-size="48" fill="#000" stroke="#000" stroke-width="0.5" stroke-linejoin="round">-100</text>
<text transform="matrix(0.9752 0 0 0.9815 321.543 657.959)" font-size="48" fill="#000" stroke="#000" stroke-width="0.5" stroke-linejoin="round">-50</text>
<text transform="matrix(1.0488 0 0 0.9815 515.015 658.259)" font-size="48" fill="#000" stroke="#000" stroke-width="0.5" stroke-linejoin="round">0</text>
<text transform="matrix(1.0092 0 0 0.9815 671.875 657.959)" font-size="48" fill="#000" stroke="#000" stroke-width="0.5" stroke-linejoin="round">50</text>
<text transform="matrix(0.9621 0 0 0.9938 832.161 658.253)" font-size="48" fill="#000" stroke="#000" stroke-width="0.5" stroke-linejoin="round">100</text>
<text transform="matrix(1.0128 0 0 0.9398 569.274 702.337)" font-size="46" fill="#000">(</text>
<text transform="matrix(1.0263 0 0 0.9287 583.674 703.200)" font-size="46" fill="#000">nm</text>
<text transform="matrix(1.0213 0 0 0.9341 643.168 702.392)" font-size="46" fill="#000">)</text>
<text transform="matrix(0 -0.9959 0.9460 0 42.476 372.061)" font-size="46" font-style="italic" fill="#000" stroke="#fff" stroke-width="0.5">p</text>
<text transform="matrix(0 -1.1234 0.9542 0 40.996 331.247)" font-size="46" fill="#000" stroke="#fff" stroke-width="0.8">(</text>
<text transform="matrix(0 -1.0468 0.9677 0 41.565 243.370)" font-size="46" fill="#000" stroke="#fff" stroke-width="0.8">)</text>
<text transform="matrix(0.9467 0 0 0.9839 582.417 30.108)" font-size="32" fill="#000" stroke="#000" stroke-width="0.6" stroke-linejoin="round">0.3</text>
<text transform="matrix(0.9919 0 0 0.9885 582.360 114.106)" font-size="32" fill="#000" stroke="#000" stroke-width="0.6" stroke-linejoin="round">0.2</text>
<text transform="matrix(0.9252 0 0 0.9885 582.444 199.106)" font-size="32" fill="#000" stroke="#000" stroke-width="0.6" stroke-linejoin="round">0.1</text>
<text transform="matrix(1.0519 0 0 0.9860 605.085 284.253)" font-size="32" fill="#000" stroke="#000" stroke-width="0.6" stroke-linejoin="round">0</text>
<text transform="matrix(1.0296 0 0 0.9860 630.413 311.753)" font-size="32" fill="#000" stroke="#000" stroke-width="0.6" stroke-linejoin="round">0</text>
<text transform="matrix(0.9923 0 0 0.9976 697.763 311.751)" font-size="32" fill="#000" stroke="#000" stroke-width="0.6" stroke-linejoin="round">5</text>
<text transform="matrix(0.9750 0 0 0.9860 758.219 311.753)" font-size="32" fill="#000" stroke="#000" stroke-width="0.6" stroke-linejoin="round">10</text>
<text transform="matrix(0.9321 0 0 0.9860 826.537 311.753)" font-size="32" fill="#000" stroke="#000" stroke-width="0.6" stroke-linejoin="round">15</text>
<text transform="matrix(1.0051 0 0 0.9860 892.392 311.753)" font-size="32" fill="#000" stroke="#000" stroke-width="0.6" stroke-linejoin="round">20</text>
<text transform="matrix(1.0000 0 0 0.9410 758.950 333.719)" font-size="29" fill="#000">(</text>
<text transform="matrix(1.0884 0 0 0.9286 769.156 334.768)" font-size="29" fill="#000">ms</text>
<text transform="matrix(1.0000 0 0 0.9500 804.700 333.900)" font-size="29" fill="#000">)</text>
<text transform="matrix(0 -1.0194 1.0018 0 569.488 175.090)" font-size="30" font-style="italic" fill="#000">β</text>
<text transform="matrix(0 -1.0139 1.0914 0 570.454 158.228)" font-size="30" font-style="italic" fill="#000">W</text>
<text transform="matrix(0.9669 0 0 0.9931 925.791 30.303)" font-size="32" fill="#ff0000" stroke="#ff0000" stroke-width="0.6" stroke-linejoin="round">0.6</text>
<text transform="matrix(0.9542 0 0 0.9885 925.807 114.106)" font-size="32" fill="#ff0000" stroke="#ff0000" stroke-width="0.6" stroke-linejoin="round">0.4</text>
<text transform="matrix(1.0000 0 0 0.9931 925.450 199.403)" font-size="32" fill="#ff0000" stroke="#ff0000" stroke-width="0.6" stroke-linejoin="round">0.2</text>
<text transform="matrix(1.0963 0 0 0.9721 925.330 284.957)" font-size="32" fill="#ff0000" stroke="#ff0000" stroke-width="0.6" stroke-linejoin="round">0</text>
<text transform="matrix(0 1.0218 -0.9391 0 969.000 132.155)" font-size="35" font-style="italic" fill="#ff0000">N</text>
<g fill="none" stroke="#000" stroke-linecap="round"><path d="M523.46 690.17C525.13 685.55 528.49 683.46 531.43 683.87C533.0 684.1 533.9 685.3 533.7 687.2" stroke-width="1.8"/><path d="M533.7 686.8L531.2 699.8" stroke-width="2.9"/><path d="M531.3 699.3C530.59 702.34 528.07 703.81 525.55 703.39" stroke-width="1.9"/><path d="M542.55 685.13C539.82 683.46 536.04 684.29 534.37 688.07" stroke-width="1.8"/><path d="M532.48 698.14C532.69 701.5 534.79 703.6 537.3 703.18C540.24 702.76 542.34 699.4 543.18 696.67" stroke-width="1.8"/><circle cx="523.9" cy="700.9" r="2.2" stroke="none" fill="#000"/><circle cx="542.3" cy="686.5" r="2.3" stroke="none" fill="#000"/></g>
<g fill="none" stroke="#000" stroke-linecap="round" transform="matrix(0 -0.975 0.975 0 -643.113 822.572)"><path d="M523.46 690.17C525.13 685.55 528.49 683.46 531.43 683.87C533.0 684.1 533.9 685.3 533.7 687.2" stroke-width="1.8"/><path d="M533.7 686.8L531.2 699.8" stroke-width="2.9"/><path d="M531.3 699.3C530.59 702.34 528.07 703.81 525.55 703.39" stroke-width="1.9"/><path d="M542.55 685.13C539.82 683.46 536.04 684.29 534.37 688.07" stroke-width="1.8"/><path d="M532.48 698.14C532.69 701.5 534.79 703.6 537.3 703.18C540.24 702.76 542.34 699.4 543.18 696.67" stroke-width="1.8"/><circle cx="523.9" cy="700.9" r="2.2" stroke="none" fill="#000"/><circle cx="542.3" cy="686.5" r="2.3" stroke="none" fill="#000"/></g>
<g fill="none" stroke="#000" stroke-linecap="round"><path d="M23.6 239.3V256.0C23.8 258.3 26.0 260.0 29.0 261.1" stroke-width="2.6"/><path d="M24.5 250.1L41.2 253.7" stroke-width="2.4"/><path d="M38.5 253.1L41.6 253.8" stroke-width="3.4"/></g>
<g fill="none" stroke="#000" stroke-linecap="round"><path d="M738.9 326.0C740.2 323.8 741.2 322.5 743.2 322.4L753.4 322.4" stroke-width="1.6"/><path d="M746.5 323.2L743.9 334.2" stroke-width="1.9"/></g>
<circle cx="24.9" cy="270.4" r="2.5" fill="#000"/><circle cx="39.8" cy="270.3" r="2.5" fill="#000"/><path d="M39.8 268.3C43.5 267.2 48.0 268.6 51.0 272.2" fill="none" stroke="#000" stroke-width="1.6" stroke-linecap="round"/>
<g fill="none" stroke="#000" stroke-linecap="round"><ellipse cx="11.8" cy="341.6" rx="7.9" ry="5.6" transform="rotate(18 11.8 341.6)" stroke-width="2.0"/><path d="M4.6 334.4L18.3 338.5" stroke-width="2.5"/><path d="M18.3 338.5C20.4 337.4 20.0 334.0 14.6 332.3" stroke-width="1.4"/></g>
<g fill="none" stroke="#000" stroke-linecap="round" transform="translate(541.876 -107.884) scale(0.68)"><ellipse cx="11.8" cy="341.6" rx="7.9" ry="5.6" transform="rotate(18 11.8 341.6)" stroke-width="2.0"/><path d="M4.6 334.4L18.3 338.5" stroke-width="2.5"/><path d="M18.3 338.5C20.4 337.4 20.0 334.0 14.6 332.3" stroke-width="1.4"/></g>
<path d="M552.34 670.28L547.15 681.29L548.05 681.91L556.46 673.12Z" fill="#000"/><circle cx="554.40" cy="671.70" r="2.5" fill="#000"/>
<path d="M9.34 283.05L20.17 288.84L20.83 287.96L12.06 279.35Z" fill="#000"/><circle cx="10.70" cy="281.20" r="2.3" fill="#000"/>
<path d="M547.6 177.2L560.9 186.0L574.3 177.2M547.6 116.0L560.9 107.9L574.3 116.0" fill="none" stroke="#000" stroke-width="1.7" stroke-linejoin="miter"/>
</svg>
</body></html>
